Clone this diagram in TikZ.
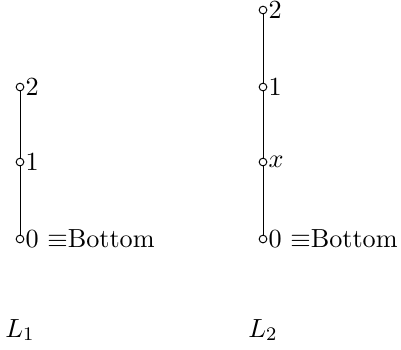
\documentclass[tikz,border=0pt]{standalone}
\begin{document}
\begin{tikzpicture}[x=0.41667pt,y=-0.41667pt,
  every node/.style={font=\fontsize{10.9}{13}\selectfont},
  elem/.style={circle,draw,inner sep=0pt,minimum size=3.2pt,line width=0.4pt},
  lab/.style={anchor=west,inner sep=0.3pt},
  chain/.style={line width=0.4pt}]
\useasboundingbox (0,0) rectangle (401,349);
% L1
\node[elem] (a2) at (20,87) {};
\node[elem] (a1) at (20,162) {};
\node[elem] (a0) at (20,239) {};
\draw[chain] (a2) -- (a1) -- (a0);
\node[lab] (a2l) at (a2.east) {2};
\node[lab] (a1l) at (a1.east) {1};
\node[lab] (a0l) at (a0.east) {0 $\equiv$Bottom};
% L2
\node[elem] (b2) at (263,10) {};
\node[elem] (b1) at (263,87) {};
\node[elem] (bx) at (263,162) {};
\node[elem] (b0) at (263,239) {};
\draw[chain] (b2) -- (b1) -- (bx) -- (b0);
\node[lab] (b2l) at (b2.east) {2};
\node[lab] (b1l) at (b1.east) {1};
\node[lab] (bxl) at (bx.east) {$x$};
\node[lab] (b0l) at (b0.east) {0 $\equiv$Bottom};
\node (l1) at (20,330) {$L_1$};
\node (l2) at (263,330) {$L_2$};
\end{tikzpicture}
\end{document}
